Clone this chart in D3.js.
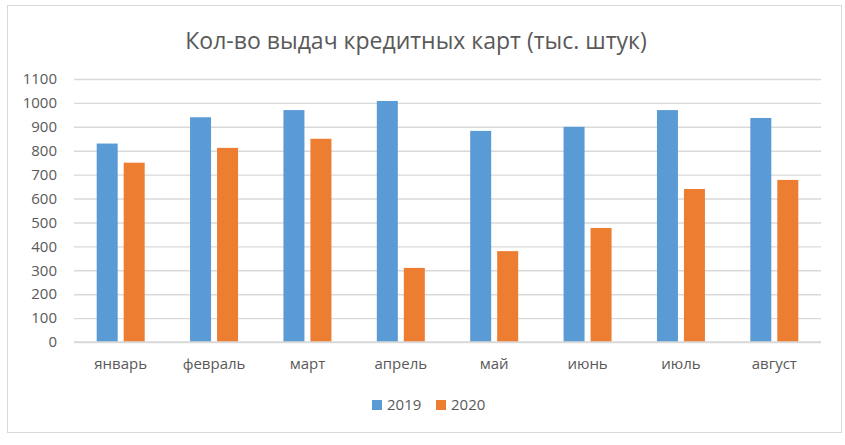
<!DOCTYPE html>
<html>
<head>
<meta charset="utf-8">
<script src="https://cdn.jsdelivr.net/npm/d3@7"></script>
<style>
  body { margin: 0; background: #fff; }
  svg text { font-family: "Open Sans", "Noto Sans", sans-serif; fill: #595959; }
</style>
</head>
<body>
<div id="graphic"></div>
<script>
const months = ["январь", "февраль", "март", "апрель", "май", "июнь", "июль", "август"];
const series = ["2019", "2020"];
const values2019 = [830, 940, 970, 1008, 883, 900, 970, 937];
const values2020 = [750, 812, 850, 310, 380, 477, 640, 678];
const yTicks = [0, 100, 200, 300, 400, 500, 600, 700, 800, 900, 1000, 1100];
const colors = ["#5B9BD5", "#ED7D31"];

const W = 845, H = 445;
const margin = {top: 79, right: 24, bottom: 103, left: 74};

var svg = d3.select("#graphic")
    .append("svg")
    .attr("width", W)
    .attr("height", H);

// chart frame
svg.append("rect")
    .attr("x", 7.5).attr("y", 5.5)
    .attr("width", 834).attr("height", 427)
    .attr("fill", "#fff")
    .attr("stroke", "#d9d9d9")
    .attr("stroke-width", 1);

svg.append("text")
    .attr("x", 416).attr("y", 49)
    .attr("text-anchor", "middle")
    .style("font-size", "23px")
    .text("Кол-во выдач кредитных карт (тыс. штук)");

var x = d3.scaleBand()
    .domain(months)
    .range([margin.left, W - margin.right]);

var xSub = d3.scaleBand()
    .domain(series)
    .range([x.bandwidth() / 2 - 24, x.bandwidth() / 2 + 24])
    .paddingInner(6 / 27);

var y = d3.scaleLinear()
    .domain([0, 1100])
    .range([H - margin.bottom, margin.top]);

// gridlines + y labels
var yAxis = d3.axisLeft(y)
    .tickValues(yTicks)
    .tickFormat(d3.format("d"))
    .tickSize(-(W - margin.left - margin.right))
    .tickPadding(17);

svg.append("g")
    .attr("class", "y axis")
    .attr("transform", `translate(${margin.left},0)`)
    .call(yAxis)
    .call(g => g.select(".domain").remove())
    .call(g => g.selectAll(".tick line")
        .attr("stroke", "#d9d9d9")
        .attr("stroke-width", 1.4))
    .call(g => g.selectAll(".tick text")
        .style("font-size", "15px"));

var data = months.map((m, i) => ({month: m, values: [values2019[i], values2020[i]]}));

var groups = svg.selectAll(".month")
    .data(data)
    .enter()
    .append("g")
    .attr("class", "month")
    .attr("transform", d => `translate(${x(d.month)},0)`);

groups.selectAll("rect")
    .data(d => d.values.map((v, i) => ({key: series[i], value: v, i: i})))
    .enter()
    .append("rect")
    .attr("x", d => xSub(d.key))
    .attr("width", xSub.bandwidth())
    .attr("y", d => y(d.value))
    .attr("height", d => y(0) - y(d.value))
    .attr("fill", d => colors[d.i]);

// redraw baseline on top
svg.append("line")
    .attr("x1", margin.left).attr("x2", W - margin.right)
    .attr("y1", y(0)).attr("y2", y(0))
    .attr("stroke", "#d9d9d9")
    .attr("stroke-width", 1.4);

var xAxis = d3.axisBottom(x).tickSize(0).tickPadding(16);
svg.append("g")
    .attr("class", "x axis")
    .attr("transform", `translate(0,${y(0)})`)
    .call(xAxis)
    .call(g => g.select(".domain").remove())
    .call(g => g.selectAll(".tick text").style("font-size", "15px"));

// legend
var legend = svg.append("g")
    .attr("transform", "translate(372,400)");

var li = legend.selectAll(".item")
    .data(series)
    .enter()
    .append("g")
    .attr("transform", (d, i) => `translate(${i * 64},0)`);

li.append("rect")
    .attr("width", 10).attr("height", 10)
    .attr("fill", (d, i) => colors[i]);

li.append("text")
    .attr("x", 15).attr("y", 10)
    .style("font-size", "15px")
    .text(d => d);
</script>
</body>
</html>
